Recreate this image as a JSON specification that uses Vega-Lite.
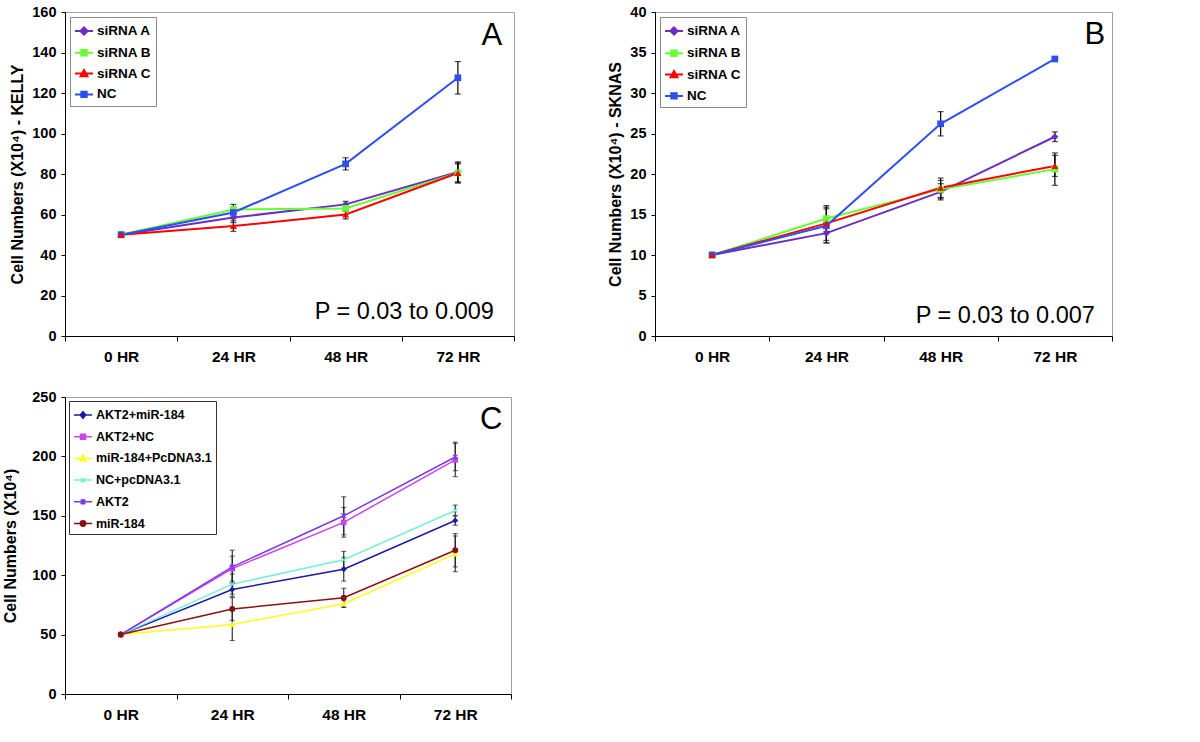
{
  "$schema": "https://vega.github.io/schema/vega-lite/v6.json",
  "background": "white",
  "padding": {"left": 2, "top": 3, "right": 5, "bottom": 5},
  "config": {
    "font": "Liberation Sans",
    "view": {"stroke": "#a0a0a0", "strokeWidth": 1},
    "axis": {"grid": false, "domainColor": "black", "tickColor": "black", "labelColor": "black", "labelFont": "Liberation Sans", "labelFontWeight": "bold", "titleFont": "Liberation Sans", "titleFontWeight": "bold", "titleColor": "black", "domainWidth": 1, "tickWidth": 1},
    "axisX": {"labelFontSize": 15.5, "tickSize": 5, "labelPadding": 8, "labelAngle": 0, "tickBand": "extent"},
    "axisY": {"labelFontSize": 14.5, "tickSize": 4, "labelPadding": 5, "titleFontSize": 16, "titlePadding": 6},
    "legend": {"orient": "top-left", "offset": 5, "strokeColor": "#8a8a8a", "fillColor": "white", "padding": 4, "labelFont": "Liberation Sans", "labelFontSize": 13.5, "labelFontWeight": "bold", "labelColor": "black", "symbolSize": 324, "rowPadding": 3.8, "labelOffset": 3, "symbolStrokeWidth": 2}
  },
  "datasets": {
    "a": [
      {"t": "0 HR", "s": "siRNA A", "v": 50},
      {"t": "24 HR", "s": "siRNA A", "v": 58.5, "lo": 56, "hi": 61},
      {"t": "48 HR", "s": "siRNA A", "v": 65, "lo": 63.5, "hi": 66.5},
      {"t": "72 HR", "s": "siRNA A", "v": 81, "lo": 76, "hi": 86},
      {"t": "0 HR", "s": "siRNA B", "v": 50},
      {"t": "24 HR", "s": "siRNA B", "v": 62.5, "lo": 60, "hi": 65},
      {"t": "48 HR", "s": "siRNA B", "v": 63, "lo": 61.5, "hi": 64.5},
      {"t": "72 HR", "s": "siRNA B", "v": 80.5, "lo": 76, "hi": 85},
      {"t": "0 HR", "s": "siRNA C", "v": 50},
      {"t": "24 HR", "s": "siRNA C", "v": 54.3, "lo": 51.7, "hi": 56.9},
      {"t": "48 HR", "s": "siRNA C", "v": 60, "lo": 57.8, "hi": 62},
      {"t": "72 HR", "s": "siRNA C", "v": 80.5, "lo": 75.5, "hi": 85.5},
      {"t": "0 HR", "s": "NC", "v": 50},
      {"t": "24 HR", "s": "NC", "v": 61, "lo": 58, "hi": 63.5},
      {"t": "48 HR", "s": "NC", "v": 85, "lo": 82, "hi": 88},
      {"t": "72 HR", "s": "NC", "v": 127.5, "lo": 119.5, "hi": 135.5}
    ],
    "b": [
      {"t": "0 HR", "s": "siRNA A", "v": 10},
      {"t": "24 HR", "s": "siRNA A", "v": 12.7, "lo": 11.5, "hi": 13.9},
      {"t": "48 HR", "s": "siRNA A", "v": 17.8, "lo": 16.8, "hi": 18.8},
      {"t": "72 HR", "s": "siRNA A", "v": 24.6, "lo": 24, "hi": 25.2},
      {"t": "0 HR", "s": "siRNA B", "v": 10},
      {"t": "24 HR", "s": "siRNA B", "v": 14.5, "lo": 12.9, "hi": 16.1},
      {"t": "48 HR", "s": "siRNA B", "v": 18.1, "lo": 17, "hi": 19.2},
      {"t": "72 HR", "s": "siRNA B", "v": 20.6, "lo": 18.6, "hi": 22.6},
      {"t": "0 HR", "s": "siRNA C", "v": 10},
      {"t": "24 HR", "s": "siRNA C", "v": 13.9, "lo": 11.8, "hi": 15.9},
      {"t": "48 HR", "s": "siRNA C", "v": 18.3, "lo": 17.1, "hi": 19.5},
      {"t": "72 HR", "s": "siRNA C", "v": 21, "lo": 19.7, "hi": 22.3},
      {"t": "0 HR", "s": "NC", "v": 10},
      {"t": "24 HR", "s": "NC", "v": 13.6, "lo": 11.5, "hi": 15.7},
      {"t": "48 HR", "s": "NC", "v": 26.2, "lo": 24.7, "hi": 27.7},
      {"t": "72 HR", "s": "NC", "v": 34.2, "lo": 34, "hi": 34.4}
    ],
    "c": [
      {"t": "0 HR", "s": "AKT2+miR-184", "v": 50},
      {"t": "24 HR", "s": "AKT2+miR-184", "v": 88, "lo": 82, "hi": 94},
      {"t": "48 HR", "s": "AKT2+miR-184", "v": 105, "lo": 95, "hi": 115},
      {"t": "72 HR", "s": "AKT2+miR-184", "v": 146, "lo": 142, "hi": 150},
      {"t": "0 HR", "s": "AKT2+NC", "v": 50},
      {"t": "24 HR", "s": "AKT2+NC", "v": 105.5, "lo": 95, "hi": 116},
      {"t": "48 HR", "s": "AKT2+NC", "v": 144.5, "lo": 132, "hi": 157},
      {"t": "72 HR", "s": "AKT2+NC", "v": 197, "lo": 183, "hi": 211},
      {"t": "0 HR", "s": "miR-184+PcDNA3.1", "v": 50},
      {"t": "24 HR", "s": "miR-184+PcDNA3.1", "v": 58.5, "lo": 45, "hi": 72},
      {"t": "48 HR", "s": "miR-184+PcDNA3.1", "v": 76, "lo": 73, "hi": 79},
      {"t": "72 HR", "s": "miR-184+PcDNA3.1", "v": 118, "lo": 103, "hi": 133},
      {"t": "0 HR", "s": "NC+pcDNA3.1", "v": 50},
      {"t": "24 HR", "s": "NC+pcDNA3.1", "v": 92.5, "lo": 84, "hi": 101},
      {"t": "48 HR", "s": "NC+pcDNA3.1", "v": 113, "lo": 106, "hi": 120},
      {"t": "72 HR", "s": "NC+pcDNA3.1", "v": 154.5, "lo": 150, "hi": 159},
      {"t": "0 HR", "s": "AKT2", "v": 50},
      {"t": "24 HR", "s": "AKT2", "v": 107, "lo": 93, "hi": 121},
      {"t": "48 HR", "s": "AKT2", "v": 150, "lo": 134, "hi": 166},
      {"t": "72 HR", "s": "AKT2", "v": 199.5, "lo": 188, "hi": 212},
      {"t": "0 HR", "s": "miR-184", "v": 50},
      {"t": "24 HR", "s": "miR-184", "v": 71.5, "lo": 62, "hi": 81},
      {"t": "48 HR", "s": "miR-184", "v": 81, "lo": 73, "hi": 89},
      {"t": "72 HR", "s": "miR-184", "v": 121, "lo": 107, "hi": 135}
    ]
  },
  "resolve": {"scale": {"color": "independent"}, "legend": {"color": "independent"}},
  "spacing": 23,
  "vconcat": [
    {
      "spacing": 92,
      "resolve": {"scale": {"color": "independent"}, "legend": {"color": "independent"}},
      "hconcat": [
        {
          "width": 449, "height": 324,
          "encoding": {"x": {"field": "t", "type": "nominal", "sort": ["0 HR", "24 HR", "48 HR", "72 HR"], "scale": {"paddingInner": 0, "paddingOuter": 0}, "title": null}},
          "layer": [
            {"data": {"name": "a"}, "mark": {"type": "line", "strokeWidth": 2},
             "encoding": {
               "y": {"field": "v", "type": "quantitative", "title": "Cell Numbers (X10⁴) - KELLY", "scale": {"domain": [0, 160], "nice": false}, "axis": {"values": [0, 20, 40, 60, 80, 100, 120, 140, 160]}},
               "color": {"field": "s", "type": "nominal", "scale": {"domain": ["siRNA A", "siRNA B", "siRNA C", "NC"], "range": ["#6B2DC4", "#66FF33", "#FF0000", "#2E4FF0"]},
                 "legend": {"title": null,
                 "encode": {"symbols": {"update": {
                   "shape": {"signal": "['M-1,0H1M0,-0.4L0.4,0L0,0.4L-0.4,0Z','M-1,0H1M-0.3,-0.3H0.3V0.3H-0.3Z','M-1,0H1M0,-0.4L0.38,0.3H-0.38Z','M-1,0H1M-0.3,-0.3H0.3V0.3H-0.3Z'][indexof(['siRNA A','siRNA B','siRNA C','NC'], datum.value)]"},
                   "fill": {"signal": "['#6B2DC4','#66FF33','#FF0000','#2E4FF0'][indexof(['siRNA A','siRNA B','siRNA C','NC'], datum.value)]"},
                   "stroke": {"signal": "['#6B2DC4','#66FF33','#FF0000','#2E4FF0'][indexof(['siRNA A','siRNA B','siRNA C','NC'], datum.value)]"},
                   "strokeWidth": {"value": 2}, "opacity": {"value": 1}}}}}}}},
            {"data": {"name": "a"}, "transform": [{"filter": "isValid(datum.lo)"}], "mark": {"type": "rule", "color": "black", "strokeWidth": 1.2},
             "encoding": {"y": {"field": "lo", "type": "quantitative", "title": "Cell Numbers (X10⁴) - KELLY"}, "y2": {"field": "hi"}}},
            {"data": {"name": "a"}, "transform": [{"filter": "isValid(datum.lo)"}], "mark": {"type": "tick", "color": "black", "size": 6, "thickness": 1.2},
             "encoding": {"y": {"field": "lo", "type": "quantitative", "title": "Cell Numbers (X10⁴) - KELLY"}}},
            {"data": {"name": "a"}, "transform": [{"filter": "isValid(datum.hi)"}], "mark": {"type": "tick", "color": "black", "size": 6, "thickness": 1.2},
             "encoding": {"y": {"field": "hi", "type": "quantitative", "title": "Cell Numbers (X10⁴) - KELLY"}}},
            {"data": {"name": "a"}, "transform": [{"filter": {"field": "s", "equal": "siRNA A"}}], "mark": {"type": "point", "shape": "diamond", "filled": true, "opacity": 1, "size": 50},
             "encoding": {"y": {"field": "v", "type": "quantitative", "title": "Cell Numbers (X10⁴) - KELLY"}, "color": {"field": "s", "type": "nominal"}}},
            {"data": {"name": "a"}, "transform": [{"filter": {"field": "s", "oneOf": ["siRNA B", "NC"]}}], "mark": {"type": "point", "shape": "square", "filled": true, "opacity": 1, "size": 45},
             "encoding": {"y": {"field": "v", "type": "quantitative", "title": "Cell Numbers (X10⁴) - KELLY"}, "color": {"field": "s", "type": "nominal"}}},
            {"data": {"name": "a"}, "transform": [{"filter": {"field": "s", "equal": "siRNA C"}}], "mark": {"type": "point", "shape": "triangle-up", "filled": true, "opacity": 1, "size": 50},
             "encoding": {"y": {"field": "v", "type": "quantitative", "title": "Cell Numbers (X10⁴) - KELLY"}, "color": {"field": "s", "type": "nominal"}}},
            {"data": {"values": [{"t": "72 HR", "v": 148, "label": "A"}]}, "mark": {"type": "text", "fontSize": 31, "align": "center", "baseline": "middle", "dx": 34, "color": "black"},
             "encoding": {"y": {"field": "v", "type": "quantitative", "title": "Cell Numbers (X10⁴) - KELLY"}, "text": {"field": "label"}}},
            {"data": {"values": [{"t": "72 HR", "v": 8.2, "label": "P = 0.03 to 0.009"}]}, "mark": {"type": "text", "fontSize": 23.5, "align": "right", "baseline": "alphabetic", "dx": 36, "color": "black"},
             "encoding": {"y": {"field": "v", "type": "quantitative", "title": "Cell Numbers (X10⁴) - KELLY"}, "text": {"field": "label"}}}
          ]
        },
        {
          "width": 457, "height": 324,
          "encoding": {"x": {"field": "t", "type": "nominal", "sort": ["0 HR", "24 HR", "48 HR", "72 HR"], "scale": {"paddingInner": 0, "paddingOuter": 0}, "title": null}},
          "layer": [
            {"data": {"name": "b"}, "mark": {"type": "line", "strokeWidth": 2},
             "encoding": {
               "y": {"field": "v", "type": "quantitative", "title": "Cell Numbers (X10⁴) - SKNAS", "scale": {"domain": [0, 40], "nice": false}, "axis": {"values": [0, 5, 10, 15, 20, 25, 30, 35, 40]}},
               "color": {"field": "s", "type": "nominal", "scale": {"domain": ["siRNA A", "siRNA B", "siRNA C", "NC"], "range": ["#6B2DC4", "#66FF33", "#FF0000", "#2E4FF0"]},
                 "legend": {"title": null, "rowPadding": 4.3,
                 "encode": {"symbols": {"update": {
                   "shape": {"signal": "['M-1,0H1M0,-0.4L0.4,0L0,0.4L-0.4,0Z','M-1,0H1M-0.3,-0.3H0.3V0.3H-0.3Z','M-1,0H1M0,-0.4L0.38,0.3H-0.38Z','M-1,0H1M-0.3,-0.3H0.3V0.3H-0.3Z'][indexof(['siRNA A','siRNA B','siRNA C','NC'], datum.value)]"},
                   "fill": {"signal": "['#6B2DC4','#66FF33','#FF0000','#2E4FF0'][indexof(['siRNA A','siRNA B','siRNA C','NC'], datum.value)]"},
                   "stroke": {"signal": "['#6B2DC4','#66FF33','#FF0000','#2E4FF0'][indexof(['siRNA A','siRNA B','siRNA C','NC'], datum.value)]"},
                   "strokeWidth": {"value": 2}, "opacity": {"value": 1}}}}}}}},
            {"data": {"name": "b"}, "transform": [{"filter": "isValid(datum.lo)"}], "mark": {"type": "rule", "color": "black", "strokeWidth": 1.2},
             "encoding": {"y": {"field": "lo", "type": "quantitative", "title": "Cell Numbers (X10⁴) - SKNAS"}, "y2": {"field": "hi"}}},
            {"data": {"name": "b"}, "transform": [{"filter": "isValid(datum.lo)"}], "mark": {"type": "tick", "color": "black", "size": 6, "thickness": 1.2},
             "encoding": {"y": {"field": "lo", "type": "quantitative", "title": "Cell Numbers (X10⁴) - SKNAS"}}},
            {"data": {"name": "b"}, "transform": [{"filter": "isValid(datum.hi)"}], "mark": {"type": "tick", "color": "black", "size": 6, "thickness": 1.2},
             "encoding": {"y": {"field": "hi", "type": "quantitative", "title": "Cell Numbers (X10⁴) - SKNAS"}}},
            {"data": {"name": "b"}, "transform": [{"filter": {"field": "s", "equal": "siRNA A"}}], "mark": {"type": "point", "shape": "diamond", "filled": true, "opacity": 1, "size": 50},
             "encoding": {"y": {"field": "v", "type": "quantitative", "title": "Cell Numbers (X10⁴) - SKNAS"}, "color": {"field": "s", "type": "nominal"}}},
            {"data": {"name": "b"}, "transform": [{"filter": {"field": "s", "oneOf": ["siRNA B", "NC"]}}], "mark": {"type": "point", "shape": "square", "filled": true, "opacity": 1, "size": 45},
             "encoding": {"y": {"field": "v", "type": "quantitative", "title": "Cell Numbers (X10⁴) - SKNAS"}, "color": {"field": "s", "type": "nominal"}}},
            {"data": {"name": "b"}, "transform": [{"filter": {"field": "s", "equal": "siRNA C"}}], "mark": {"type": "point", "shape": "triangle-up", "filled": true, "opacity": 1, "size": 50},
             "encoding": {"y": {"field": "v", "type": "quantitative", "title": "Cell Numbers (X10⁴) - SKNAS"}, "color": {"field": "s", "type": "nominal"}}},
            {"data": {"values": [{"t": "72 HR", "v": 37.2, "label": "B"}]}, "mark": {"type": "text", "fontSize": 31, "align": "center", "baseline": "middle", "dx": 40, "color": "black"},
             "encoding": {"y": {"field": "v", "type": "quantitative", "title": "Cell Numbers (X10⁴) - SKNAS"}, "text": {"field": "label"}}},
            {"data": {"values": [{"t": "72 HR", "v": 1.6, "label": "P = 0.03 to 0.007"}]}, "mark": {"type": "text", "fontSize": 23.5, "align": "right", "baseline": "alphabetic", "dx": 40, "color": "black"},
             "encoding": {"y": {"field": "v", "type": "quantitative", "title": "Cell Numbers (X10⁴) - SKNAS"}, "text": {"field": "label"}}}
          ]
        }
      ]
    },
    {
      "width": 446, "height": 297,
      "encoding": {"x": {"field": "t", "type": "nominal", "sort": ["0 HR", "24 HR", "48 HR", "72 HR"], "scale": {"paddingInner": 0, "paddingOuter": 0}, "title": null}},
      "layer": [
        {"data": {"name": "c"}, "mark": {"type": "line", "strokeWidth": 1.5},
         "encoding": {
           "y": {"field": "v", "type": "quantitative", "title": "Cell Numbers (X10⁴)", "scale": {"domain": [0, 250], "nice": false}, "axis": {"values": [0, 50, 100, 150, 200, 250], "titlePadding": 13}},
           "color": {"field": "s", "type": "nominal", "scale": {"domain": ["AKT2+miR-184", "AKT2+NC", "miR-184+PcDNA3.1", "NC+pcDNA3.1", "AKT2", "miR-184"], "range": ["#1A1AA6", "#CC44EE", "#FFFF1A", "#77EED8", "#7A3CE0", "#8B1111"]},
             "legend": {"title": null, "offset": 4, "strokeColor": "#333333", "labelFontSize": 12.5, "rowPadding": 4.7,
             "encode": {"symbols": {"update": {
               "shape": {"signal": "['M-1,0H1M0,-0.36L0.3,0L0,0.36L-0.3,0Z','M-1,0H1M-0.28,-0.28H0.28V0.28H-0.28Z','M-1,0H1M0,-0.36L0.34,0.26H-0.34Z','M-1,0H1M-0.26,-0.26L0.26,0.26M-0.26,0.26L0.26,-0.26','M-1,0H1M-0.26,-0.26L0.26,0.26M-0.26,0.26L0.26,-0.26M0,-0.34V0.34','M-1,0H1M-0.3,0A0.3,0.3,0,1,0,0.3,0A0.3,0.3,0,1,0,-0.3,0Z'][indexof(['AKT2+miR-184','AKT2+NC','miR-184+PcDNA3.1','NC+pcDNA3.1','AKT2','miR-184'], datum.value)]"},
               "fill": {"signal": "['#1A1AA6','#CC44EE','#FFFF1A','#77EED8','#7A3CE0','#8B1111'][indexof(['AKT2+miR-184','AKT2+NC','miR-184+PcDNA3.1','NC+pcDNA3.1','AKT2','miR-184'], datum.value)]"},
               "stroke": {"signal": "['#1A1AA6','#CC44EE','#FFFF1A','#77EED8','#7A3CE0','#8B1111'][indexof(['AKT2+miR-184','AKT2+NC','miR-184+PcDNA3.1','NC+pcDNA3.1','AKT2','miR-184'], datum.value)]"},
               "strokeWidth": {"value": 1.5}, "opacity": {"value": 1}}}}}}}},
        {"data": {"name": "c"}, "transform": [{"filter": "isValid(datum.lo)"}], "mark": {"type": "rule", "color": "#222222", "strokeWidth": 1.1},
         "encoding": {"y": {"field": "lo", "type": "quantitative", "title": "Cell Numbers (X10⁴)"}, "y2": {"field": "hi"}}},
        {"data": {"name": "c"}, "transform": [{"filter": "isValid(datum.lo)"}], "mark": {"type": "tick", "color": "#222222", "size": 5, "thickness": 1.1},
         "encoding": {"y": {"field": "lo", "type": "quantitative", "title": "Cell Numbers (X10⁴)"}}},
        {"data": {"name": "c"}, "transform": [{"filter": "isValid(datum.hi)"}], "mark": {"type": "tick", "color": "#222222", "size": 5, "thickness": 1.1},
         "encoding": {"y": {"field": "hi", "type": "quantitative", "title": "Cell Numbers (X10⁴)"}}},
        {"data": {"name": "c"}, "transform": [{"filter": {"field": "s", "equal": "AKT2+miR-184"}}], "mark": {"type": "point", "shape": "diamond", "filled": true, "opacity": 1, "size": 36},
         "encoding": {"y": {"field": "v", "type": "quantitative", "title": "Cell Numbers (X10⁴)"}, "color": {"field": "s", "type": "nominal"}}},
        {"data": {"name": "c"}, "transform": [{"filter": {"field": "s", "equal": "AKT2+NC"}}], "mark": {"type": "point", "shape": "square", "filled": true, "opacity": 1, "size": 32},
         "encoding": {"y": {"field": "v", "type": "quantitative", "title": "Cell Numbers (X10⁴)"}, "color": {"field": "s", "type": "nominal"}}},
        {"data": {"name": "c"}, "transform": [{"filter": {"field": "s", "equal": "miR-184+PcDNA3.1"}}], "mark": {"type": "point", "shape": "triangle-up", "filled": true, "opacity": 1, "size": 36},
         "encoding": {"y": {"field": "v", "type": "quantitative", "title": "Cell Numbers (X10⁴)"}, "color": {"field": "s", "type": "nominal"}}},
        {"data": {"name": "c"}, "transform": [{"filter": {"field": "s", "equal": "NC+pcDNA3.1"}}], "mark": {"type": "point", "shape": "M-1,-1L1,1M-1,1L1,-1", "filled": false, "opacity": 1, "size": 22, "strokeWidth": 1.2},
         "encoding": {"y": {"field": "v", "type": "quantitative", "title": "Cell Numbers (X10⁴)"}, "color": {"field": "s", "type": "nominal"}}},
        {"data": {"name": "c"}, "transform": [{"filter": {"field": "s", "equal": "AKT2"}}], "mark": {"type": "point", "shape": "M-1,-1L1,1M-1,1L1,-1M0,-1.3V1.3", "filled": false, "opacity": 1, "size": 22, "strokeWidth": 1.2},
         "encoding": {"y": {"field": "v", "type": "quantitative", "title": "Cell Numbers (X10⁴)"}, "color": {"field": "s", "type": "nominal"}}},
        {"data": {"name": "c"}, "transform": [{"filter": {"field": "s", "equal": "miR-184"}}], "mark": {"type": "point", "shape": "circle", "filled": true, "opacity": 1, "size": 36},
         "encoding": {"y": {"field": "v", "type": "quantitative", "title": "Cell Numbers (X10⁴)"}, "color": {"field": "s", "type": "nominal"}}},
        {"data": {"values": [{"t": "72 HR", "v": 231, "label": "C"}]}, "mark": {"type": "text", "fontSize": 31, "align": "center", "baseline": "middle", "dx": 36, "color": "black"},
         "encoding": {"y": {"field": "v", "type": "quantitative", "title": "Cell Numbers (X10⁴)"}, "text": {"field": "label"}}}
      ]
    }
  ]
}
